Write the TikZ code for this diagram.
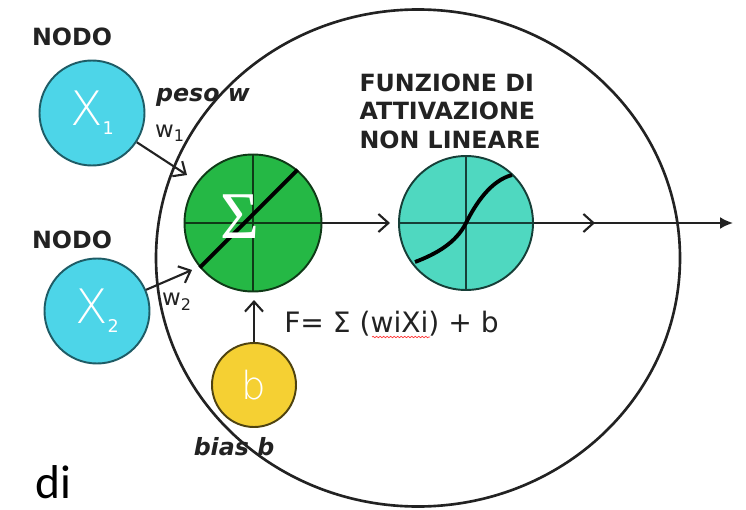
\documentclass[tikz,border=0pt]{standalone}
\usepackage{fontspec}
\usepackage{tikz}
\usetikzlibrary{arrows.meta, shapes.geometric, decorations.pathmorphing}
\setmainfont{DejaVu Sans}
\newfontfamily\thinfont{DejaVu Sans ExtraLight}
\newfontfamily\greekserif{Liberation Serif}
\newfontfamily\calfont{Carlito}
\definecolor{nodecyan}{HTML}{4DD5E8}
\definecolor{nodecyanedge}{HTML}{1E5C66}
\definecolor{sumgreen}{HTML}{25B845}
\definecolor{sumgreenedge}{HTML}{0F3A17}
\definecolor{actteal}{HTML}{4FD8C0}
\definecolor{acttealedge}{HTML}{163F38}
\definecolor{biasyellow}{HTML}{F5D033}
\definecolor{biasyellowedge}{HTML}{4F4310}
\definecolor{inktext}{HTML}{222222}

\begin{document}
\begin{tikzpicture}[
    unit/.style={circle, draw, line width=1.1pt, inner sep=0pt},
    inp/.style={unit, fill=nodecyan, draw=nodecyanedge, minimum size=2.1cm, text=white},
    head/.style={font=\fontsize{13.5}{16.2}\selectfont\bfseries, text=inktext, align=left},
    slant/.style={font=\fontsize{13.5}{13.5}\selectfont\bfseries\itshape, text=inktext},
    arr/.style={-{Straight Barb[length=2mm, width=3.6mm]}, line width=1.2pt, inktext}
  ]
    \useasboundingbox (0,0) rectangle (14.92,10.18);

    \node[ellipse, draw=inktext, line width=1.5pt, minimum width=10.48cm,
          minimum height=9.94cm, inner sep=0pt] (neuron) at (8.36,5.02) {};

    \node[inp] (x1) at (1.84,7.92) {\thinfont\fontsize{27}{27}\selectfont X\raisebox{-5pt}{\normalfont\fontsize{10}{10}\selectfont 1}};
    \node[inp] (x2) at (1.94,3.96) {\thinfont\fontsize{27}{27}\selectfont X\raisebox{-5pt}{\normalfont\fontsize{10}{10}\selectfont 2}};
    \node[unit, fill=sumgreen, draw=sumgreenedge, minimum size=2.74cm] (sum) at (5.06,5.72) {};
    \node[unit, fill=actteal, draw=acttealedge, minimum size=2.68cm] (act) at (9.32,5.72) {};
    \node[unit, fill=biasyellow, draw=biasyellowedge, minimum size=1.68cm, text=white] (bias) at (5.08,2.48) {\thinfont\fontsize{22}{22}\selectfont b};

    % sum unit
    \draw[sumgreenedge, line width=1pt] (sum.north) -- (sum.south) (sum.west) -- (sum.east);
    \draw[black, line width=2.2pt] (sum.220) -- (sum.50);
    \node[text=white, font=\greekserif\fontsize{38}{38}\selectfont] (sigma) at (4.80,5.84) {Σ};

    % activation unit
    \draw[acttealedge, line width=1pt] (act.north) -- (act.south) (act.west) -- (act.east);
    \draw[black, line width=2.2pt, shift={(act.center)}] (-1.02,-0.78)
        .. controls (-0.6,-0.62) and (-0.2,-0.4) .. (0,0)
        .. controls (0.2,0.4) and (0.5,0.85) .. (0.92,0.96);

    \node[head] (nodo1) at (1.44,9.44) {NODO};
    \node[head] (nodo2) at (1.44,5.38) {NODO};
    \node[head] (funz) at (9.0,7.96) {FUNZIONE DI\\ATTIVAZIONE\\NON LINEARE};
    \node[slant] (peso) at (4.06,8.24) {peso w};
    \node[slant] (biaslbl) at (4.68,1.24) {bias b};
    \node[font=\fontsize{13}{13}\selectfont, text=inktext] (w1) at (3.40,7.52) {w\textsubscript{1}};
    \node[font=\fontsize{13}{13}\selectfont, text=inktext] (w2) at (3.54,4.14) {w\textsubscript{2}};
    \node[font=\fontsize{16}{16}\selectfont, text=inktext] (formula) at (7.83,3.70) {F= Σ (wiXi) + b};
    \draw[red!80!white, line width=0.4pt, decorate,
          decoration={snake, amplitude=0.4pt, segment length=2pt}] (7.44,3.44) -- (8.60,3.44);
    \node[font=\calfont\fontsize{27}{27}\selectfont, anchor=base west, inner sep=0pt] (di) at (0.70,0.22) {di};

    \coordinate (tip1) at (3.74,6.68);
    \coordinate (tip2) at (3.84,4.78);
    \coordinate (tipb) at (5.08,4.18);
    \coordinate (tipa) at (7.80,5.72);
    \coordinate (tipm) at (11.90,5.72);
    \coordinate (tipo) at (14.66,5.72);

    \draw[arr] (x1) -- (tip1);
    \draw[arr] (x2) -- (tip2);
    \draw[arr] (bias) -- (tipb);
    \draw[arr] (sum.east) -- (tipa);
    \draw[arr] (act.east) -- (tipm);
    \draw[-{Latex[length=2.6mm, width=2.4mm]}, line width=1.2pt, inktext] (act.east) -- (tipo);
\end{tikzpicture}
\end{document}
